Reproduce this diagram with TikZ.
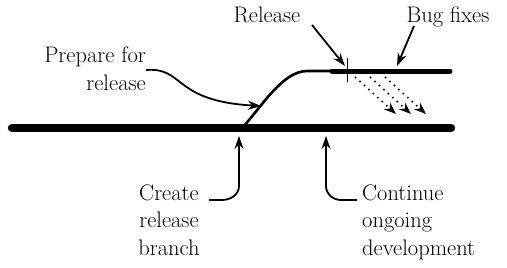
\documentclass[tikz,border=0pt]{standalone}
\usetikzlibrary{arrows.meta}
\begin{document}
\begin{tikzpicture}[x=1pt,y=-1pt,
  lbl/.style={inner sep=0pt,font=\fontsize{22.5}{27.5}\selectfont},
  ptr/.style={line width=1.8pt,-{Stealth[length=13pt,width=9pt]}},
  dotptr/.style={line width=1.6pt,dash pattern=on 1.5pt off 4.5pt,-{Stealth[length=12pt,width=9pt]}}]
\useasboundingbox (0,0) rectangle (507,268);
% trunk
\coordinate (m0) at (12,128);
\coordinate (m1) at (451,128);
\draw[line width=8.5pt,line cap=round] (m0) -- (m1);
% release branch
\coordinate (b0) at (243,127);
\coordinate (b1) at (307,71);
\coordinate (b2) at (332,71);
\coordinate (b3) at (450,71);
\draw[line width=2.6pt] (b0) .. controls (262,106) and (283,71) .. (b1) -- (b2);
\draw[line width=5pt,line cap=round] (b2) -- (b3);
% release tick
\coordinate (t0) at (347,58);
\coordinate (t1) at (347,82);
\draw[line width=1pt] (t0) -- (t1);
% labels
\node[lbl,anchor=base] (rel) at (267,22) {Release};
\node[lbl,anchor=base] (bug) at (448,22) {Bug fixes};
\node[lbl,align=right,anchor=north east] (prep) at (146,47) {Prepare for\\release};
\node[lbl,align=center,anchor=north] (create) at (169,184.5) {Create\\release\\branch};
\node[lbl,align=left,anchor=north west] (cont) at (362,184.5) {Continue\\ongoing\\development};
% pointers
\coordinate (relS) at (312,25);
\coordinate (relE) at (345,66);
\draw[ptr] (relS) -- (relE);
\coordinate (bugS) at (414,26);
\coordinate (bugE) at (397,66);
\draw[ptr] (bugS) -- (bugE);
\coordinate (prS) at (146,70);
\coordinate (prE) at (261,106);
\draw[ptr] (prS) .. controls (185,67) and (172,101) .. (prE);
\coordinate (crS) at (209,200);
\coordinate (crE) at (239,136);
\draw[ptr] (crS) -- (222,200) to[out=0,in=-90] (239,186) -- (crE);
\coordinate (coS) at (357,200);
\coordinate (coE) at (326,136);
\draw[ptr] (coS) -- (341,200) to[out=180,in=-90] (326,186) -- (coE);
% merge of fixes back to trunk
\foreach \i/\dx in {1/0,2/15,3/30}{
  \coordinate (dS\i) at (355+\dx,77);
  \coordinate (dE\i) at (396+\dx,114);
  \draw[dotptr] (dS\i) -- (dE\i);
}
\end{tikzpicture}
\end{document}
